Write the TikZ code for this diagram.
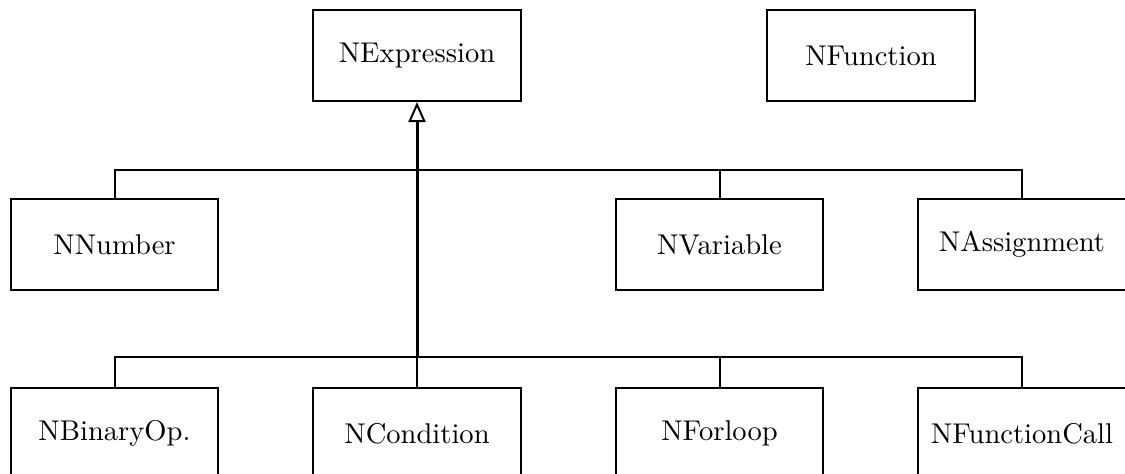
\documentclass[tikz,border=0pt]{standalone}
\usetikzlibrary{arrows.meta}
\begin{document}
\begin{tikzpicture}[x=0.35pt,y=-0.35pt,
  cls/.style={draw, line width=0.7pt, minimum width=72.8pt, minimum height=31.9pt, inner sep=0pt, font=\fontsize{10}{12}\selectfont},
  conn/.style={line width=0.7pt},
  gen/.style={line width=1.05pt, {Triangle[open, length=7pt, width=6pt, line width=0.7pt]}-}]
\useasboundingbox (0,0) rectangle (1125,474);
\clip (0,0) rectangle (1125,474);
\node[cls] (expr) at (417,55.5) {NExpression};
\node[cls] (func) at (871,55.5) {NFunction};
\node[cls] (num) at (114.5,244.5) {NNumber};
\node[cls] (var) at (719.5,244.5) {NVariable};
\node[cls] (assign) at (1022,244.5) {NAssignment};
\node[cls] (binop) at (114.5,433.5) {NBinaryOp.};
\node[cls] (cond) at (417,433.5) {NCondition};
\node[cls] (forl) at (719.5,433.5) {NForloop};
\node[cls] (call) at (1022,433.5) {NFunctionCall};
\coordinate (h1) at (417,170);
\coordinate (h2) at (417,357.5);
\draw[conn] (num.north) |- (h1) -| (assign.north);
\draw[conn] (var.north) |- (h1);
\draw[conn] (binop.north) |- (h2) -| (call.north);
\draw[conn] (forl.north) |- (h2);
\draw[conn] (cond.north) -- (h2);
\draw[gen] (expr.south) -- (h2);
\end{tikzpicture}
\end{document}
